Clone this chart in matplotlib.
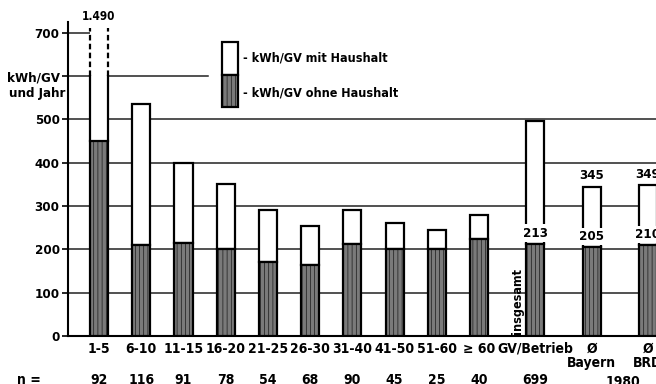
import matplotlib
matplotlib.use("Agg")
import matplotlib.pyplot as plt
import matplotlib.transforms as mtransforms
from matplotlib import font_manager

# schmale Schrift suchen, sonst DejaVu Sans
schmal = [f for f in font_manager.fontManager.ttflist
          if 'Narrow' in f.name or 'Condensed' in f.name
          or f.stretch in ('condensed', 'semi-condensed', 'extra-condensed', 75, 87)]
if schmal:
    fett = [f for f in schmal if f.weight in ('bold', 'semibold', 'medium', 500, 600, 700)]
    f = (fett or schmal)[0]
    plt.rcParams['font.family'] = [f.name, 'DejaVu Sans']
    plt.rcParams['font.stretch'] = f.stretch
    plt.rcParams['font.weight'] = f.weight
    fs = 10
else:
    plt.rcParams['font.family'] = ['DejaVu Sans']
    fs = 8.5
plt.rcParams['hatch.linewidth'] = 0.4

# Daten (kWh/GV und Jahr)
groups = ["1-5", "6-10", "11-15", "16-20", "21-25", "26-30", "31-40",
          "41-50", "51-60", "\u2265 60", "GV/Betrieb", "\u00d8\nBayern", "\u00d8\nBRD"]
mit_haushalt = [1490, 535, 400, 350, 290, 255, 290, 260, 245, 280, 497, 345, 349]
ohne_haushalt = [450, 210, 214, 200, 170, 165, 213, 200, 200, 225, 213, 205, 210]
n_betriebe = ["92", "116", "91", "78", "54", "68", "90", "45", "25", "40", "699"]
pos = [0, 1, 2, 3, 4, 5, 6, 7, 8, 9, 10.33, 11.67, 13.0]

W = 0.43
dark = '#7a7a7a'

fig = plt.figure(figsize=(6.56, 3.84), dpi=100)
ax = fig.add_axes([68/656, 48/384, 1 - 68/656, (336 - 22)/384])
ax.set_xlim(-0.734, 13.19)
ax.set_ylim(0, 725)

# Gitterlinien
for v in [100, 200, 300, 400, 500]:
    ax.axhline(v, color='#222222', lw=1.1, zorder=1)
ax.plot([-0.734, 2.58], [600, 600], color='#222222', lw=1.1, zorder=1)
ax.plot([-0.734, -0.21], [700, 700], color='#222222', lw=1.1, zorder=1)

# Saeulen
ax.bar(pos, ohne_haushalt, width=W, color=dark, edgecolor='black',
       hatch='||||', lw=1.6, zorder=3)
oben = [m - o for m, o in zip(mit_haushalt, ohne_haushalt)]
edges = ['none'] + ['black'] * (len(pos) - 1)
ax.bar(pos, oben, bottom=ohne_haushalt, width=W, color='white',
       edgecolor=edges, lw=1.6, zorder=2)

# erste Saeule unterbrochen
x0 = pos[0]
for xe in [x0 - W/2, x0 + W/2]:
    ax.plot([xe, xe], [ohne_haushalt[0], 600], color='black', lw=1.6, zorder=4)
    ax.plot([xe, xe], [600, 712], color='black', lw=1.6, ls=(0, (2.5, 1.5)),
            zorder=4, clip_on=False)
ax.text(x0, 738, "1.490", ha='center', va='center', fontsize=fs - 1.5,
        clip_on=False)

# Werte bei den Durchschnitts-Saeulen
for i in [10, 11, 12]:
    ax.annotate(str(ohne_haushalt[i]), (pos[i], ohne_haushalt[i]),
                xytext=(0, 3), textcoords='offset points', ha='center',
                va='bottom', fontsize=fs - 0.5, zorder=5,
                bbox=dict(facecolor='white', edgecolor='none', pad=1.5))
for i in [11, 12]:
    ax.annotate(str(mit_haushalt[i]), (pos[i], mit_haushalt[i]),
                xytext=(0, 3), textcoords='offset points', ha='center',
                va='bottom', fontsize=fs - 0.5)
ax.text(9.9, 81, "insgesamt", rotation=90, ha='center', va='center',
        fontsize=fs - 1)

# Legende
ax.bar([3.1], [603 - 529], bottom=[529], width=0.38, color=dark,
       edgecolor='black', hatch='||||', lw=1.6, zorder=3)
ax.bar([3.1], [679 - 603], bottom=[603], width=0.38, color='white',
       edgecolor='black', lw=1.6, zorder=2)
ax.text(3.41, 642, "- kWh/GV mit Haushalt", va='center', fontsize=fs - 1)
ax.text(3.41, 561, "- kWh/GV ohne Haushalt", va='center', fontsize=fs - 1)

# Achsen
for s in ['top', 'right']:
    ax.spines[s].set_visible(False)
ax.spines['left'].set_linewidth(1.5)
ax.spines['bottom'].set_linewidth(1.5)
ax.set_yticks([0, 100, 200, 300, 400, 500, 600, 700])
ax.set_yticklabels(["0", "100", "200", "300", "400", "500", "kWh/GV", "700"],
                   fontsize=fs - 0.5)
ax.tick_params(axis='y', length=4, width=1.2, pad=2)
ax.text(-0.8, 561, "und Jahr", ha='right', va='center', fontsize=fs - 0.5)
ax.set_xticks(pos)
ax.set_xticklabels(groups, fontsize=fs, linespacing=1.0)
ax.tick_params(axis='x', length=0, pad=4)

# Anzahl Betriebe
tr = mtransforms.blended_transform_factory(ax.transData, ax.transAxes)
ax.text(-1.66, -0.14, "n =", transform=tr, ha='center', va='center',
        fontsize=fs, clip_on=False)
for p, n in zip(pos, n_betriebe):
    ax.text(p, -0.14, n, transform=tr, ha='center', va='center',
            fontsize=fs, clip_on=False)
ax.text(12.41, -0.145, "1980", transform=tr, ha='center', va='center',
        fontsize=fs, clip_on=False)

fig.savefig("out.png", dpi=100)
